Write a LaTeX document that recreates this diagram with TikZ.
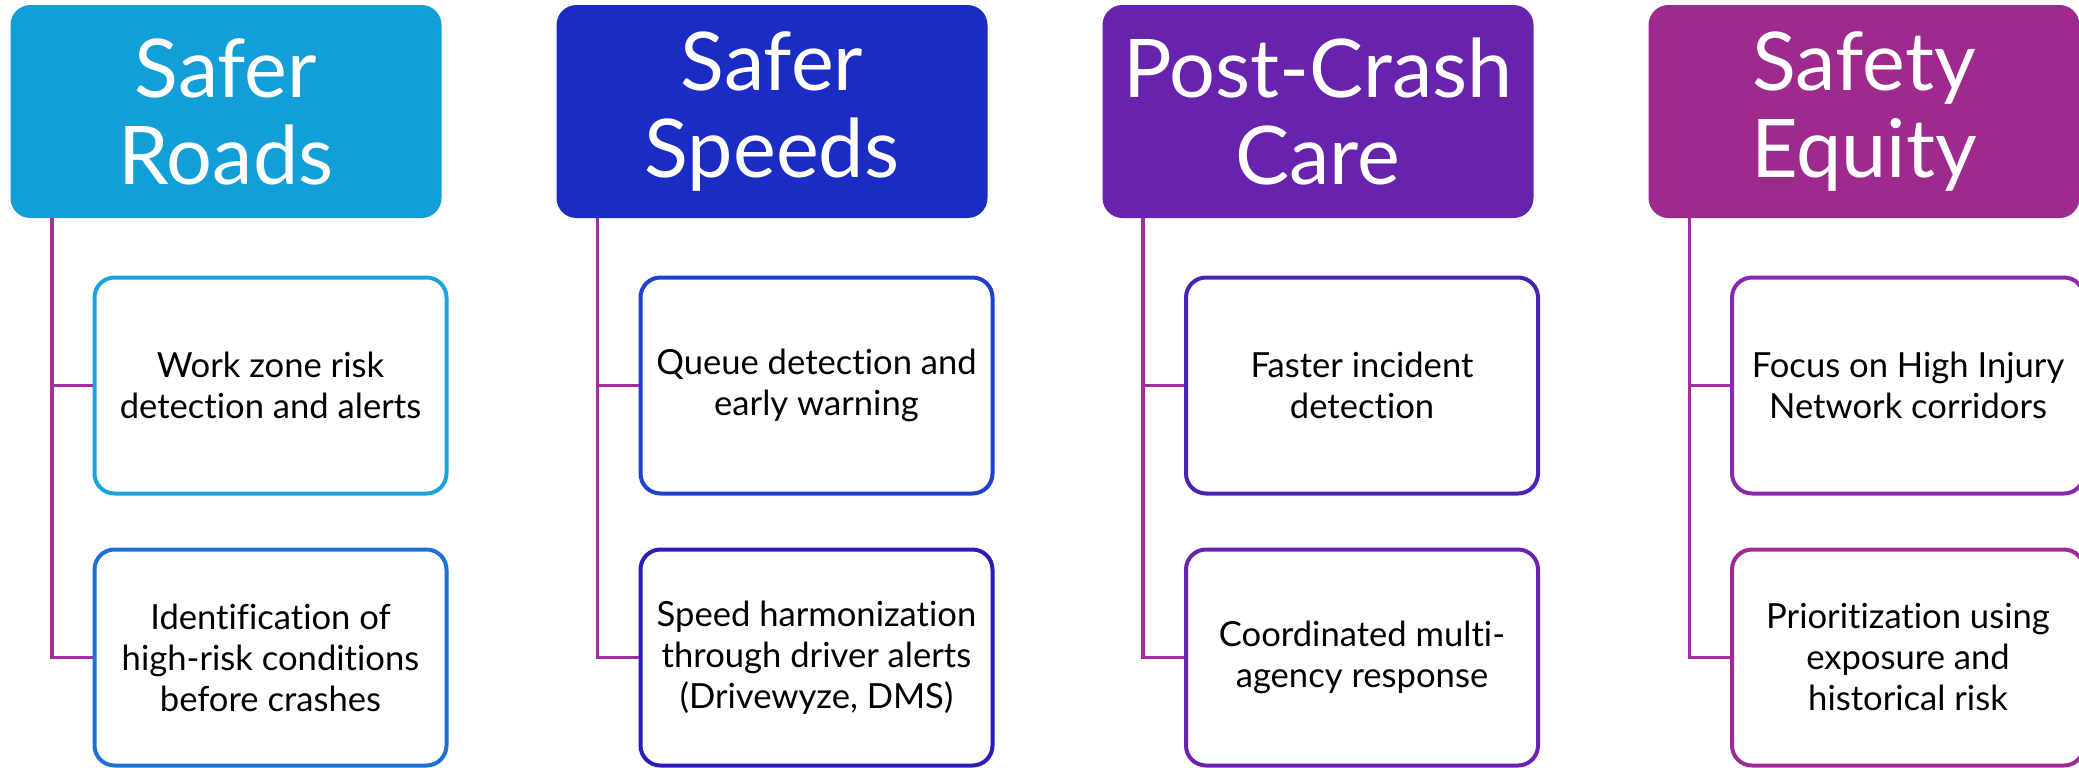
\documentclass[tikz,border=0pt]{standalone}
\usepackage{fontspec}
\setmainfont{Lato}[Ligatures=NoCommon]
\definecolor{hA}{HTML}{129FD7}
\definecolor{hB}{HTML}{1B2CC4}
\definecolor{hC}{HTML}{6823AE}
\definecolor{hD}{HTML}{9E2A8E}
\definecolor{bA}{HTML}{1AA3DC}
\definecolor{bB}{HTML}{1E6FD6}
\definecolor{bC}{HTML}{1F3FCC}
\definecolor{bD}{HTML}{2A1DB8}
\definecolor{bE}{HTML}{4A22B8}
\definecolor{bF}{HTML}{6C22B0}
\definecolor{bG}{HTML}{8A28AE}
\definecolor{bH}{HTML}{9E2A96}
\definecolor{connc}{HTML}{A2309C}
\tikzset{
  head/.style={rectangle, rounded corners=10pt, minimum width=215.5pt, minimum height=106.5pt,
    text=white, align=center, inner sep=0pt, font=\fontsize{40.5pt}{43.5pt}\selectfont},
  item/.style={rectangle, rounded corners=10pt, minimum width=176pt, minimum height=108pt,
    fill=white, line width=2pt, align=center, inner sep=0pt, text=black,
    font=\fontsize{17.3pt}{20.5pt}\selectfont},
  conn/.style={draw=connc, line width=1.7pt}
}
\begin{document}
\begin{tikzpicture}[x=0.5pt,y=-0.5pt]
\useasboundingbox (0,0) rectangle (2079,767);
% column 1
\node[head, fill=hA] (h1) at (226,111.5) {Safer\\Roads};
\coordinate (t1) at (52,217);
\node[item, draw=bA] (b11) at (270.5,385.5) {Work zone risk\\detection and alerts};
\node[item, draw=bB] (b12) at (270.5,657.5) {Identification of\\high-risk conditions\\before crashes};
\draw[conn] (h1.south -| t1) |- (b12.west);
\draw[conn] (t1 |- b11.west) -- (b11.west);
% column 2
\node[head, fill=hB] (h2) at (772,111.5) {Safer\\Speeds};
\coordinate (t2) at (597.5,217);
\node[item, draw=bC] (b21) at (816.5,385.5) {Queue detection and\\early warning};
\node[item, draw=bD] (b22) at (816.5,657.5) {Speed harmonization\\through driver alerts\\(Drivewyze, DMS)};
\draw[conn] (h2.south -| t2) |- (b22.west);
\draw[conn] (t2 |- b21.west) -- (b21.west);
% column 3
\node[head, fill=hC] (h3) at (1318,111.5) {Post-Crash\\Care};
\coordinate (t3) at (1143,217);
\node[item, draw=bE] (b31) at (1362,385.5) {Faster incident\\detection};
\node[item, draw=bF] (b32) at (1362,657.5) {Coordinated multi-\\agency response};
\draw[conn] (h3.south -| t3) |- (b32.west);
\draw[conn] (t3 |- b31.west) -- (b31.west);
% column 4
\node[head, fill=hD] (h4) at (1864,111.5) {Safety\\Equity};
\coordinate (t4) at (1689.5,217);
\node[item, draw=bG] (b41) at (1908,385.5) {Focus on High Injury\\Network corridors};
\node[item, draw=bH] (b42) at (1908,657.5) {Prioritization using\\exposure and\\historical risk};
\draw[conn] (h4.south -| t4) |- (b42.west);
\draw[conn] (t4 |- b41.west) -- (b41.west);
\end{tikzpicture}
\end{document}
